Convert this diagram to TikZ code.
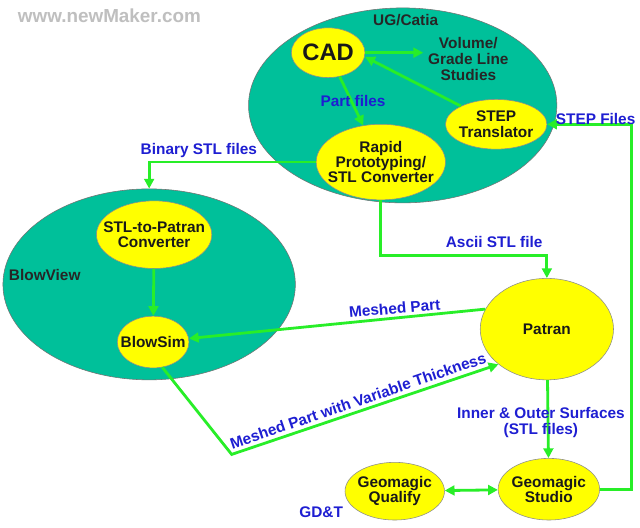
\documentclass[tikz,border=0pt]{standalone}
\usepackage{fontspec}
\setmainfont{Liberation Sans}
\usepackage{tikz}
\usetikzlibrary{shapes.geometric,arrows.meta,calc}

\definecolor{catiateal}{RGB}{0,192,154}
\definecolor{blobyellow}{RGB}{255,255,0}
\definecolor{flowgreen}{RGB}{40,238,40}
\definecolor{labelblue}{RGB}{30,30,210}

\begin{document}
\begin{tikzpicture}[x=0.025cm,y=-0.025cm]
            \tikzset{
                suite/.style={
                    ellipse,
                    draw=black!55,
                    fill=catiateal,
                    inner sep=0pt
                }
            }
            \tikzset{
                tool/.style={
                    ellipse,
                    draw=black!45,
                    fill=blobyellow,
                    inner sep=-12pt,
                    align=center,
                    text=black!90,
                    font=\bfseries\fontsize{11}{11}\selectfont
                }
            }
            \tikzset{
                flow/.style={
                    flowgreen,
                    line width=2pt,
                    -{Triangle[length=7pt,width=7pt]}
                }
            }
            \tikzset{
                flowtag/.style={
                    text=labelblue,
                    align=center,
                    font=\bfseries\fontsize{11}{11}\selectfont
                }
            }
            \tikzset{
                suitetag/.style={
                    text=black!85,
                    align=center,
                    font=\bfseries\fontsize{11}{11.5}\selectfont
                }
            }

            \path[fill=white] (0,0) rectangle (640,531);

            \node[text=black!25, font=\bfseries\fontsize{13.5}{14}\selectfont] (mark) at (110,16) {www.newMaker.com};

            \node[suite, minimum width=7.75cm, minimum height=4.9cm] (catia) at (405,106) {};
            \node[suite, minimum width=7.35cm, minimum height=4.8cm] (blowview) at (150,286) {};
            \node[suitetag] (catianame) at (408,20) {UG/Catia};
            \node[suitetag] (blowname) at (45,277) {BlowView};
            \node[suitetag] (volume) at (471,59) {Volume/\\Grade Line\\Studies};

            \node[tool, minimum width=1.85cm, minimum height=1.25cm,
                  font=\bfseries\fontsize{17}{17}\selectfont] (cad) at (330,53) {CAD};
            \node[tool, minimum width=2.55cm, minimum height=1.25cm] (step) at (499,125) {STEP\\Translator};
            \node[tool, minimum width=3.25cm, minimum height=1.9cm] (rapid) at (383,163) {Rapid\\Prototyping/\\STL Converter};
            \node[tool, minimum width=2.9cm, minimum height=1.7cm] (stlconv) at (155,236) {STL-to-Patran\\Converter};
            \node[tool, minimum width=1.8cm, minimum height=1.3cm] (blowsim) at (154,344) {BlowSim};
            \node[tool, minimum width=3.35cm, minimum height=2.55cm] (patran) at (550,331) {Patran};
            \node[tool, minimum width=2.55cm, minimum height=1.55cm] (studio) at (552,492) {Geomagic\\Studio};
            \node[tool, minimum width=2.5cm, minimum height=1.45cm] (qualify) at (397,494) {Geomagic\\Qualify};

            \coordinate (bend) at (233,457);

            \draw[flow] (cad.east) -- (cad.east -| volume.west);
            \draw[flow] (step) -- ([yshift=-3pt]cad.east);
            \draw[flow] (cad) -- (rapid);
            \draw[flow] (rapid.west) -| (blowview.north);
            \draw[flow] (rapid.south) -- ++(0,56) -| (patran.north);
            \draw[flow] (studio.east) -- ++(32,0) |- (step.east);
            \draw[flow] (patran.162) -- (blowsim);
            \draw[flow] (blowsim.-70) -- (bend) -- (patran.216);
            \draw[flow] (stlconv) -- (blowsim);
            \draw[flow] (patran) -- (studio);
            \draw[flow,{Triangle[length=7pt,width=7pt]}-{Triangle[length=7pt,width=7pt]}] (qualify) -- (studio);

            \node[flowtag] (partlbl) at (355,102) {Part files};
            \node[flowtag] (binarylbl) at (200,151) {Binary STL files};
            \node[flowtag] (asciilbl) at (497,243) {Ascii STL file};
            \node[flowtag] (steplbl) at (599,120) {STEP Files};
            \node[flowtag, rotate=5] (meshlbl) at (397,310) {Meshed Part};
            \node[flowtag, rotate=18.8] (thicklbl) at (360,403) {Meshed Part with Variable Thickness};
            \node[flowtag] (surflbl) at (544,425) {Inner \& Outer Surfaces\\(STL files)};
            \node[flowtag] (gdtlbl) at (323,515) {GD\&T};
        \end{tikzpicture}
\end{document}
